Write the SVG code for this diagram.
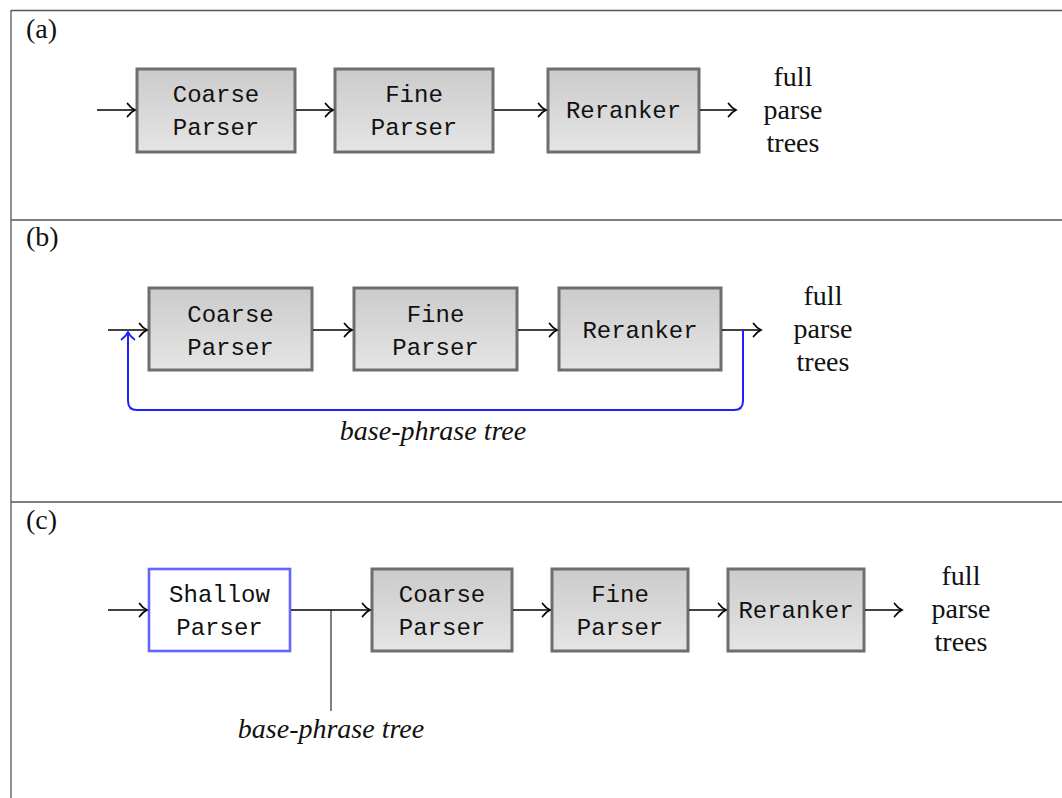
<svg xmlns="http://www.w3.org/2000/svg" width="1062" height="798" viewBox="0 0 1062 798">
  <defs>
    <linearGradient id="boxFill" x1="0" y1="0" x2="0" y2="1">
      <stop offset="0" stop-color="#cbcbcb"/>
      <stop offset="1" stop-color="#e5e5e5"/>
    </linearGradient>
    <marker id="head" markerUnits="userSpaceOnUse" markerWidth="16" markerHeight="16" viewBox="-10 -8 12 16" refX="0" refY="0" orient="auto" overflow="visible">
      <path d="M -7.5 -6.5 C -5 -3 -2 -1 0 0 C -2 1 -5 3 -7.5 6.5" fill="none" stroke="#000" stroke-width="1.7" stroke-linecap="round"/>
    </marker>
    <marker id="headBlue" markerUnits="userSpaceOnUse" markerWidth="16" markerHeight="16" viewBox="-10 -8 12 16" refX="0" refY="0" orient="auto" overflow="visible">
      <path d="M -7.5 -6.5 C -5 -3 -2 -1 0 0 C -2 1 -5 3 -7.5 6.5" fill="none" stroke="#2020ff" stroke-width="1.7" stroke-linecap="round"/>
    </marker>
  </defs>
  <style>
    .frame { stroke: #555; stroke-width: 1.3; fill: none; }
    .box { fill: url(#boxFill); stroke: #6e6e6e; stroke-width: 3; }
    .shallow { fill: #fff; stroke: #6464ff; stroke-width: 2.6; }
    .mono { font-family: "Liberation Mono", "DejaVu Sans Mono", monospace; font-size: 24px; fill: #111; text-anchor: middle; }
    .serif { font-family: "Liberation Serif", "DejaVu Serif", serif; font-size: 28px; fill: #111; }
    .out { text-anchor: middle; }
    .ital { font-style: italic; text-anchor: middle; }
    .arrow { stroke: #000; stroke-width: 1.7; fill: none; marker-end: url(#head); }
    .feedback { stroke: #2020ff; stroke-width: 2; fill: none; marker-end: url(#headBlue); }
    .tap { stroke: #000; stroke-width: 1; fill: none; }
  </style>

  <rect width="1062" height="798" fill="#fff"/>

  <!-- panel frame -->
  <g id="frame">
    <line class="frame" x1="11" y1="10.5" x2="1062" y2="10.5"/>
    <line class="frame" x1="11" y1="220" x2="1062" y2="220" stroke="#222"/>
    <line class="frame" x1="11" y1="502" x2="1062" y2="502"/>
    <line class="frame" x1="11" y1="10" x2="11" y2="798"/>
    <text class="serif" x="26" y="38">(a)</text>
    <text class="serif" x="26" y="246">(b)</text>
    <text class="serif" x="26" y="529">(c)</text>
  </g>

  <!-- (a) pipeline -->
  <g id="a-coarse">
    <rect class="box" x="137" y="69" width="158" height="83"/>
    <text class="mono" x="216" y="102">Coarse</text>
    <text class="mono" x="216" y="135">Parser</text>
  </g>
  <g id="a-fine">
    <rect class="box" x="335" y="69" width="158" height="83"/>
    <text class="mono" x="414" y="102">Fine</text>
    <text class="mono" x="414" y="135">Parser</text>
  </g>
  <g id="a-reranker">
    <rect class="box" x="548" y="69" width="151" height="83"/>
    <text class="mono" x="623.5" y="118">Reranker</text>
  </g>
  <g id="a-output">
    <text class="serif out" x="793" y="86">full</text>
    <text class="serif out" x="793" y="119">parse</text>
    <text class="serif out" x="793" y="152">trees</text>
  </g>

  <!-- (b) pipeline with feedback -->
  <g id="b-coarse">
    <rect class="box" x="149" y="288" width="163" height="82"/>
    <text class="mono" x="230.5" y="322">Coarse</text>
    <text class="mono" x="230.5" y="355">Parser</text>
  </g>
  <g id="b-fine">
    <rect class="box" x="354" y="288" width="163" height="82"/>
    <text class="mono" x="435.5" y="322">Fine</text>
    <text class="mono" x="435.5" y="355">Parser</text>
  </g>
  <g id="b-reranker">
    <rect class="box" x="559" y="288" width="162" height="82"/>
    <text class="mono" x="640" y="338">Reranker</text>
  </g>
  <g id="b-output">
    <text class="serif out" x="823" y="305">full</text>
    <text class="serif out" x="823" y="338">parse</text>
    <text class="serif out" x="823" y="371">trees</text>
  </g>

  <!-- (c) pipeline with shallow parser -->
  <g id="c-shallow">
    <rect class="shallow" x="149" y="569" width="141" height="82"/>
    <text class="mono" x="219.5" y="602">Shallow</text>
    <text class="mono" x="219.5" y="635">Parser</text>
  </g>
  <g id="c-coarse">
    <rect class="box" x="372" y="569" width="140" height="82"/>
    <text class="mono" x="442" y="602">Coarse</text>
    <text class="mono" x="442" y="635">Parser</text>
  </g>
  <g id="c-fine">
    <rect class="box" x="552" y="569" width="136" height="82"/>
    <text class="mono" x="620" y="602">Fine</text>
    <text class="mono" x="620" y="635">Parser</text>
  </g>
  <g id="c-reranker">
    <rect class="box" x="728" y="569" width="136" height="82"/>
    <text class="mono" x="796" y="618">Reranker</text>
  </g>
  <g id="c-output">
    <text class="serif out" x="961" y="585">full</text>
    <text class="serif out" x="961" y="618">parse</text>
    <text class="serif out" x="961" y="651">trees</text>
  </g>

  <!-- connectors -->
  <g id="connectors">
    <!-- (a) -->
    <line class="arrow" x1="97" y1="110" x2="135" y2="110"/>
    <line class="arrow" x1="296" y1="110" x2="333" y2="110"/>
    <line class="arrow" x1="494" y1="110" x2="546" y2="110"/>
    <line class="arrow" x1="700" y1="110" x2="736" y2="110"/>
    <!-- (b) -->
    <line class="arrow" x1="108" y1="330" x2="147" y2="330"/>
    <line class="arrow" x1="313" y1="330" x2="352" y2="330"/>
    <line class="arrow" x1="518" y1="330" x2="557" y2="330"/>
    <line class="arrow" x1="722" y1="330" x2="761" y2="330"/>
    <path class="feedback" d="M 743 330 V 401 Q 743 410 734 410 H 137 Q 128 410 128 401 V 332"/>
    <text class="serif ital" x="433" y="440">base-phrase tree</text>
    <!-- (c) -->
    <line class="arrow" x1="108" y1="610" x2="147" y2="610"/>
    <line class="arrow" x1="291" y1="610" x2="370" y2="610"/>
    <line class="tap" x1="331" y1="610" x2="331" y2="711"/>
    <text class="serif ital" x="331" y="738">base-phrase tree</text>
    <line class="arrow" x1="513" y1="610" x2="550" y2="610"/>
    <line class="arrow" x1="689" y1="610" x2="726" y2="610"/>
    <line class="arrow" x1="865" y1="610" x2="902" y2="610"/>
  </g>
</svg>
